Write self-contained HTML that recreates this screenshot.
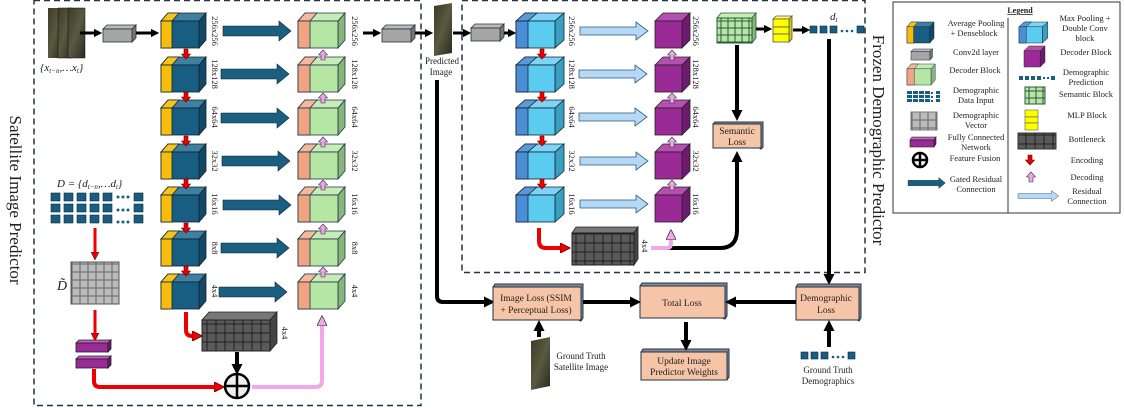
<!DOCTYPE html>
<html><head><meta charset="utf-8"><style>
body{margin:0;background:#fff}
svg{display:block}
text{font-family:"Liberation Serif",serif;fill:#222}
.s{font-size:9px}
.b{font-size:9.5px}
.l{font-size:10px}
</style></head><body>
<svg width="1125" height="408" viewBox="0 0 1125 408" xmlns="http://www.w3.org/2000/svg">
<defs>
<pattern id="gg" width="8" height="8" patternUnits="userSpaceOnUse"><rect width="8" height="8" fill="#bbb" stroke="#666" stroke-width="1"/></pattern>
<pattern id="gb" width="9" height="9" patternUnits="userSpaceOnUse"><rect width="9" height="9" fill="#5a5a5a" stroke="#222" stroke-width="1"/></pattern>
<pattern id="gs" width="7" height="7" patternUnits="userSpaceOnUse"><rect width="7" height="7" fill="#b7e6a6" stroke="#2a5a3a" stroke-width="1"/></pattern>
<linearGradient id="sat" x1="0" y1="0" x2="1" y2="1"><stop offset="0" stop-color="#3a3a2a"/><stop offset="0.5" stop-color="#5a5a40"/><stop offset="1" stop-color="#2a2a20"/></linearGradient>
<symbol id="encL" overflow="visible">
<polygon points="0,8 7,0 45,0 38,8" fill="#3f7fa0" stroke="#123" stroke-width="0.8"/>
<polygon points="0,8 7,0 18,0 11,8" fill="#f5c518" stroke="#123" stroke-width="0.8"/>
<polygon points="38,8 45,0 45,27 38,35" fill="#134866" stroke="#123" stroke-width="0.8"/>
<rect x="0" y="8" width="38" height="27" fill="#175e82" stroke="#123" stroke-width="0.8"/>
<rect x="0" y="8" width="11" height="27" fill="#f6bd0a" stroke="#123" stroke-width="0.8"/>
</symbol>
<symbol id="decL" overflow="visible">
<polygon points="0,8 7,0 47,0 40,8" fill="#c6ecb8" stroke="#234" stroke-width="0.8"/>
<polygon points="0,8 7,0 19,0 12,8" fill="#f4b89a" stroke="#234" stroke-width="0.8"/>
<polygon points="40,8 47,0 47,27 40,35" fill="#86b77a" stroke="#234" stroke-width="0.8"/>
<rect x="0" y="8" width="40" height="27" fill="#b6e6a4" stroke="#234" stroke-width="0.8"/>
<rect x="0" y="8" width="12" height="27" fill="#f0a582" stroke="#234" stroke-width="0.8"/>
</symbol>
<symbol id="encR" overflow="visible">
<polygon points="0,8 9,0 48,0 39,8" fill="#7dd4f5" stroke="#123" stroke-width="0.8"/>
<polygon points="0,8 9,0 21,0 12,8" fill="#5a9ad8" stroke="#123" stroke-width="0.8"/>
<polygon points="39,8 48,0 48,27 39,35" fill="#3aa0c0" stroke="#123" stroke-width="0.8"/>
<rect x="0" y="8" width="39" height="27" fill="#5ccbf0" stroke="#123" stroke-width="0.8"/>
<rect x="0" y="8" width="12" height="27" fill="#4a8ed6" stroke="#123" stroke-width="0.8"/>
</symbol>
<symbol id="pur" overflow="visible">
<polygon points="0,8 8,0 35,0 27,8" fill="#b550b0" stroke="#222" stroke-width="0.8"/>
<polygon points="27,8 35,0 35,27 27,35" fill="#6e1a6e" stroke="#222" stroke-width="0.8"/>
<rect x="0" y="8" width="27" height="27" fill="#9a2a96" stroke="#222" stroke-width="0.8"/>
</symbol>
<symbol id="conv" overflow="visible">
<polygon points="0,4 4,0 33,0 29,4" fill="#bbb" stroke="#234" stroke-width="0.8"/>
<polygon points="29,4 33,0 33,13 29,17" fill="#777" stroke="#234" stroke-width="0.8"/>
<rect x="0" y="4" width="29" height="13" fill="#a6a6a6" stroke="#234" stroke-width="0.8"/>
</symbol>
<symbol id="gat" overflow="visible"><polygon points="0,-5 56,-5 56,-10 68,0 56,10 56,5 0,5" fill="#1a5e80" stroke="#123" stroke-width="0.6"/></symbol>
<symbol id="res" overflow="visible"><polygon points="0,-4 56,-4 56,-9 68,0 56,9 56,4 0,4" fill="#b4d8f6" stroke="#2a5a7a" stroke-width="0.8"/></symbol>
<symbol id="rd" overflow="visible"><polygon points="-2,0 2,0 2,5 4.5,5 0,10 -4.5,5 -2,5" fill="#e00" stroke="#600" stroke-width="0.6"/></symbol>
<symbol id="pu" overflow="visible"><polygon points="-2,10 2,10 2,5 4.5,5 0,0 -4.5,5 -2,5" fill="#f0a8e8" stroke="#334" stroke-width="0.6"/></symbol>
<marker id="ah" viewBox="0 0 4 4" markerWidth="2.8" markerHeight="2.8" refX="1.5" refY="2" orient="auto" markerUnits="strokeWidth"><path d="M0,0 L4,2 L0,4 z" fill="#000"/></marker>
<marker id="ahr" viewBox="0 0 4 4" markerWidth="2.6" markerHeight="2.6" refX="1.5" refY="2" orient="auto" markerUnits="strokeWidth"><path d="M0,0 L4,2 L0,4 z" fill="#e00" stroke="#600" stroke-width="0.3"/></marker>
<marker id="ahp" viewBox="0 0 4 4" markerWidth="2.6" markerHeight="2.6" refX="1.5" refY="2" orient="auto" markerUnits="strokeWidth"><path d="M0,0 L4,2 L0,4 z" fill="#f0a8e8" stroke="#334" stroke-width="0.3"/></marker>
</defs>

<!-- Left panel -->
<rect x="34" y="0.5" width="387" height="405" fill="none" stroke="#234" stroke-width="1.5" stroke-dasharray="6,4"/>
<text transform="translate(10,200) rotate(90)" text-anchor="middle" style="font-size:17px">Satellite Image Predictor</text>
<rect x="48" y="8" width="14" height="50" fill="url(#sat)"/><rect x="58" y="8" width="14" height="50" fill="url(#sat)" stroke="#111" stroke-width="0.5"/><rect x="68" y="8" width="17" height="50" fill="url(#sat)" stroke="#111" stroke-width="0.5"/>
<text x="40" y="71" class="l" style="font-style:italic;font-size:11px">{x<tspan font-size="7" dy="2">t−n</tspan><tspan dy="-2">,…x</tspan><tspan font-size="7" dy="2">t</tspan><tspan dy="-2">}</tspan></text>
<line x1="80" y1="33" x2="97" y2="33" stroke="#000" stroke-width="3" marker-end="url(#ah)"/>
<use href="#conv" x="103" y="25"/>
<line x1="136" y1="33" x2="154" y2="33" stroke="#000" stroke-width="3" marker-end="url(#ah)"/>

<use href="#encL" x="161" y="13"/><use href="#encL" x="161" y="57"/><use href="#encL" x="161" y="100"/><use href="#encL" x="161" y="144"/><use href="#encL" x="161" y="187"/><use href="#encL" x="161" y="231"/><use href="#encL" x="161" y="274"/>
<use href="#rd" x="186" y="49"/><use href="#rd" x="186" y="92"/><use href="#rd" x="186" y="136"/><use href="#rd" x="186" y="179"/><use href="#rd" x="186" y="223"/><use href="#rd" x="186" y="266"/>
<g class="s" style="font-size:8.5px">
<text transform="translate(212,31) rotate(90)" text-anchor="middle">256x256</text>
<text transform="translate(212,74) rotate(90)" text-anchor="middle">128x128</text>
<text transform="translate(212,117) rotate(90)" text-anchor="middle">64x64</text>
<text transform="translate(212,161) rotate(90)" text-anchor="middle">32x32</text>
<text transform="translate(212,204) rotate(90)" text-anchor="middle">16x16</text>
<text transform="translate(212,248) rotate(90)" text-anchor="middle">8x8</text>
<text transform="translate(212,291) rotate(90)" text-anchor="middle">4x4</text>
<text transform="translate(352,31) rotate(90)" text-anchor="middle">256x256</text>
<text transform="translate(352,74) rotate(90)" text-anchor="middle">128x128</text>
<text transform="translate(352,117) rotate(90)" text-anchor="middle">64x64</text>
<text transform="translate(352,161) rotate(90)" text-anchor="middle">32x32</text>
<text transform="translate(352,204) rotate(90)" text-anchor="middle">16x16</text>
<text transform="translate(352,248) rotate(90)" text-anchor="middle">8x8</text>
<text transform="translate(352,291) rotate(90)" text-anchor="middle">4x4</text>
<text transform="translate(282,333) rotate(90)" text-anchor="middle">4x4</text>
</g>
<use href="#gat" x="223" y="31"/><use href="#gat" x="221" y="74"/><use href="#gat" x="221" y="118"/><use href="#gat" x="222" y="161"/><use href="#gat" x="223" y="205"/><use href="#gat" x="221" y="248"/><use href="#gat" x="219" y="292"/>
<use href="#decL" x="298" y="13"/><use href="#decL" x="298" y="57"/><use href="#decL" x="298" y="100"/><use href="#decL" x="298" y="144"/><use href="#decL" x="298" y="187"/><use href="#decL" x="298" y="231"/><use href="#decL" x="298" y="274"/>
<use href="#pu" x="323" y="50"/><use href="#pu" x="323" y="93"/><use href="#pu" x="323" y="137"/><use href="#pu" x="323" y="180"/><use href="#pu" x="323" y="224"/><use href="#pu" x="323" y="267"/>

<!-- left bottleneck -->
<polygon points="202,320 209,312 277,312 270,320" fill="#777" stroke="#222" stroke-width="0.8"/>
<polygon points="270,320 277,312 277,343 270,351" fill="#444" stroke="#222" stroke-width="0.8"/>
<rect x="202" y="320" width="68" height="31" fill="url(#gb)" stroke="#222"/>
<path d="M186,312 V330 Q186,336 192,336 H196" fill="none" stroke="#e00" stroke-width="4" marker-end="url(#ahr)"/>
<line x1="237" y1="352" x2="237" y2="368" stroke="#000" stroke-width="4" marker-end="url(#ah)"/>
<circle cx="237" cy="386" r="12" fill="#eee" stroke="#000" stroke-width="2.5"/>
<line x1="225" y1="386" x2="249" y2="386" stroke="#000" stroke-width="2.5"/><line x1="237" y1="374" x2="237" y2="398" stroke="#000" stroke-width="2.5"/>
<path d="M252,387 H316 Q322,387 322,380 V322" fill="none" stroke="#f0a8e8" stroke-width="4" marker-end="url(#ahp)"/>

<!-- D set -->
<text x="57" y="187" style="font-style:italic;font-size:11px">D = {d<tspan font-size="7" dy="2">t−n</tspan><tspan dy="-2">,…d</tspan><tspan font-size="7" dy="2">t</tspan><tspan dy="-2">}</tspan></text>
<g fill="#175e82" stroke="#0a2a40" stroke-width="0.6">
<rect x="51" y="193" width="9" height="8"/><rect x="51" y="204" width="9" height="8"/><rect x="51" y="215" width="9" height="8"/>
<rect x="64" y="193" width="9" height="8"/><rect x="64" y="204" width="9" height="8"/><rect x="64" y="215" width="9" height="8"/>
<rect x="77" y="193" width="9" height="8"/><rect x="77" y="204" width="9" height="8"/><rect x="77" y="215" width="9" height="8"/>
<rect x="90" y="193" width="9" height="8"/><rect x="90" y="204" width="9" height="8"/><rect x="90" y="215" width="9" height="8"/>
<rect x="103" y="193" width="9" height="8"/><rect x="103" y="204" width="9" height="8"/><rect x="103" y="215" width="9" height="8"/>
<rect x="134" y="193" width="9" height="8"/><rect x="134" y="204" width="9" height="8"/><rect x="134" y="215" width="9" height="8"/>
</g>
<g fill="#175e82"><circle cx="118" cy="197" r="1.5"/><circle cx="123" cy="197" r="1.5"/><circle cx="128" cy="197" r="1.5"/><circle cx="118" cy="210" r="1.5"/><circle cx="123" cy="210" r="1.5"/><circle cx="128" cy="210" r="1.5"/><circle cx="118" cy="222" r="1.5"/><circle cx="123" cy="222" r="1.5"/><circle cx="128" cy="222" r="1.5"/></g>
<line x1="95" y1="228" x2="95" y2="255" stroke="#e00" stroke-width="3" marker-end="url(#ahr)"/>
<rect x="71" y="262" width="48" height="42" fill="url(#gg)" stroke="#555"/>
<text x="57" y="290" style="font-style:italic;font-size:14px">D̃</text>
<line x1="95" y1="310" x2="95" y2="336" stroke="#e00" stroke-width="3" marker-end="url(#ahr)"/>
<g stroke="#222" stroke-width="0.8"><polygon points="76,343 79,340 111,340 108,343" fill="#c060c0"/><rect x="76" y="343" width="32" height="9" fill="#9a2a96"/><polygon points="108,343 111,340 111,349 108,352" fill="#6e1a6e"/>
<polygon points="76,359 79,356 111,356 108,359" fill="#c060c0"/><rect x="76" y="359" width="32" height="9" fill="#9a2a96"/><polygon points="108,359 111,356 111,365 108,368" fill="#6e1a6e"/></g>
<path d="M94,369 V381 Q94,387 100,387 H218" fill="none" stroke="#e00" stroke-width="4" marker-end="url(#ahr)"/>

<line x1="363" y1="33" x2="376" y2="33" stroke="#000" stroke-width="3" marker-end="url(#ah)"/>
<use href="#conv" x="382" y="25"/>
<line x1="415" y1="33" x2="428" y2="33" stroke="#000" stroke-width="3" marker-end="url(#ah)"/>

<!-- predicted image -->
<polygon points="434,6 452,3 452,53 434,56" fill="url(#sat)"/>
<text x="442" y="64" text-anchor="middle" class="s">Predicted</text>
<text x="441" y="75" text-anchor="middle" class="s">Image</text>
<path d="M437,80 V296 Q437,302 443,302 H488" fill="none" stroke="#000" stroke-width="4" marker-end="url(#ah)"/>

<!-- Right panel -->
<rect x="462" y="0.5" width="403" height="272" fill="none" stroke="#234" stroke-width="1.5" stroke-dasharray="6,4"/>
<text transform="translate(873,140) rotate(90)" text-anchor="middle" style="font-size:17px">Frozen Demographic Predictor</text>
<line x1="453" y1="33" x2="466" y2="33" stroke="#000" stroke-width="3" marker-end="url(#ah)"/>
<use href="#conv" x="471" y="24"/>
<line x1="504" y1="33" x2="511" y2="33" stroke="#000" stroke-width="3" marker-end="url(#ah)"/>
<use href="#encR" x="516" y="13"/><use href="#encR" x="516" y="57"/><use href="#encR" x="516" y="100"/><use href="#encR" x="516" y="144"/><use href="#encR" x="516" y="187"/>
<use href="#rd" x="542" y="49"/><use href="#rd" x="542" y="92"/><use href="#rd" x="542" y="136"/><use href="#rd" x="542" y="179"/>
<use href="#res" x="580" y="31"/><use href="#res" x="579" y="74"/><use href="#res" x="579" y="117"/><use href="#res" x="580" y="161"/><use href="#res" x="580" y="204"/>
<use href="#pur" x="655" y="13"/><use href="#pur" x="655" y="57"/><use href="#pur" x="655" y="100"/><use href="#pur" x="655" y="144"/><use href="#pur" x="655" y="187"/>
<use href="#pu" x="672" y="50"/><use href="#pu" x="672" y="93"/><use href="#pu" x="672" y="137"/><use href="#pu" x="672" y="180"/>
<g class="s" style="font-size:8.5px">
<text transform="translate(569,31) rotate(90)" text-anchor="middle">256x256</text>
<text transform="translate(569,74) rotate(90)" text-anchor="middle">128x128</text>
<text transform="translate(569,117) rotate(90)" text-anchor="middle">64x64</text>
<text transform="translate(569,161) rotate(90)" text-anchor="middle">32x32</text>
<text transform="translate(569,204) rotate(90)" text-anchor="middle">16x16</text>
<text transform="translate(693,31) rotate(90)" text-anchor="middle">256x256</text>
<text transform="translate(693,74) rotate(90)" text-anchor="middle">128x128</text>
<text transform="translate(693,117) rotate(90)" text-anchor="middle">64x64</text>
<text transform="translate(693,161) rotate(90)" text-anchor="middle">32x32</text>
<text transform="translate(693,204) rotate(90)" text-anchor="middle">16x16</text>
<text transform="translate(642,246) rotate(90)" text-anchor="middle">4x4</text>
</g>
<!-- right bottleneck -->
<polygon points="572,233 576,227 638,227 634,233" fill="#777" stroke="#222" stroke-width="0.8"/>
<polygon points="634,233 638,227 638,259 634,265" fill="#444" stroke="#222" stroke-width="0.8"/>
<rect x="572" y="233" width="62" height="32" fill="url(#gb)" stroke="#222"/>
<path d="M539,228 V241 Q539,248 546,248 H564" fill="none" stroke="#e00" stroke-width="4" marker-end="url(#ahr)"/>
<path d="M667,248 H720 Q737,248 737,230 V158" fill="none" stroke="#000" stroke-width="4" marker-end="url(#ah)"/>
<path d="M651,248 H667 Q671,248 671,243 V236" fill="none" stroke="#f0a8e8" stroke-width="4" marker-end="url(#ahp)"/>
<!-- semantic, mlp, pred -->
<polygon points="717,18 721,13 756,13 752,18" fill="#c6ecb8" stroke="#2a5a3a" stroke-width="0.8"/>
<polygon points="752,18 756,13 756,38 752,43" fill="#86b77a" stroke="#2a5a3a" stroke-width="0.8"/>
<rect x="717" y="18" width="35" height="25" fill="url(#gs)" stroke="#2a5a3a"/>
<line x1="756" y1="29" x2="767" y2="29" stroke="#000" stroke-width="3" marker-end="url(#ah)"/>
<g stroke="#555" stroke-width="0.8"><polygon points="773,19 776,16 792,16 789,19" fill="#ff6"/><polygon points="789,19 792,16 792,39 789,42" fill="#cc0"/>
<rect x="773" y="19" width="16" height="8" fill="#ff0"/><rect x="773" y="27" width="16" height="7" fill="#ff0"/><rect x="773" y="34" width="16" height="8" fill="#ff0"/></g>
<line x1="793" y1="30" x2="805" y2="30" stroke="#000" stroke-width="3" marker-end="url(#ah)"/>
<g fill="#175e82" stroke="#0a2a40" stroke-width="0.6"><rect x="810" y="26" width="7" height="7"/><rect x="820" y="26" width="7" height="7"/><rect x="830" y="26" width="7" height="7"/><rect x="857" y="26" width="7" height="7"/></g>
<g fill="#175e82"><circle cx="842" cy="31" r="1.3"/><circle cx="847" cy="31" r="1.3"/><circle cx="852" cy="31" r="1.3"/></g>
<text x="830" y="20" style="font-style:italic;font-size:11px">d<tspan font-size="7" dy="2">t</tspan></text>
<line x1="737" y1="45" x2="737" y2="114" stroke="#000" stroke-width="4" marker-end="url(#ah)"/>
<line x1="829" y1="39" x2="829" y2="278" stroke="#000" stroke-width="4" marker-end="url(#ah)"/>

<!-- boxes -->
<g stroke="#234" stroke-width="1">
<polygon points="713,124 715,122 763,122 763,147 761,149" fill="#889"/>
<rect x="713" y="124" width="48" height="24" fill="#f6c4a6"/>
<polygon points="493,287 495,284 583,284 583,318 581,321" fill="#889"/>
<rect x="493" y="287" width="88" height="33" fill="#f6c4a6"/>
<polygon points="640,286 642,283 727,283 727,316 725,319" fill="#889"/>
<rect x="640" y="286" width="85" height="32" fill="#f6c4a6"/>
<polygon points="796,287 798,284 861,284 861,318 859,321" fill="#889"/>
<rect x="796" y="287" width="63" height="33" fill="#f6c4a6"/>
<polygon points="641,352 643,349 729,349 729,377 727,380" fill="#889"/>
<rect x="641" y="352" width="86" height="28" fill="#f6c4a6"/>
</g>
<text x="737" y="134" text-anchor="middle" class="b">Semantic</text>
<text x="737" y="145" text-anchor="middle" class="b">Loss</text>
<text x="536" y="301" text-anchor="middle" class="b">Image Loss (SSIM</text>
<text x="536" y="313" text-anchor="middle" class="b">+ Perceptual Loss)</text>
<text x="682" y="306" text-anchor="middle" class="b">Total Loss</text>
<text x="826" y="301" text-anchor="middle" class="b">Demographic</text>
<text x="826" y="313" text-anchor="middle" class="b">Loss</text>
<text x="684" y="364" text-anchor="middle" class="b">Update Image</text>
<text x="684" y="375" text-anchor="middle" class="b">Predictor Weights</text>
<line x1="583" y1="302" x2="634" y2="302" stroke="#000" stroke-width="4" marker-end="url(#ah)"/>
<line x1="796" y1="302" x2="732" y2="302" stroke="#000" stroke-width="4" marker-end="url(#ah)"/>
<line x1="686" y1="322" x2="686" y2="344" stroke="#000" stroke-width="4" marker-end="url(#ah)"/>
<line x1="539" y1="337" x2="539" y2="327" stroke="#000" stroke-width="4" marker-end="url(#ah)"/>
<line x1="829" y1="347" x2="829" y2="327" stroke="#000" stroke-width="4" marker-end="url(#ah)"/>
<polygon points="531,341 550,337 550,386 531,390" fill="url(#sat)"/>
<text x="581" y="359" text-anchor="middle" class="s">Ground Truth</text>
<text x="581" y="370" text-anchor="middle" class="s">Satellite Image</text>
<g fill="#175e82" stroke="#0a2a40" stroke-width="0.6"><rect x="801" y="352" width="7" height="7"/><rect x="811" y="352" width="7" height="7"/><rect x="821" y="352" width="7" height="7"/><rect x="848" y="352" width="7" height="7"/></g>
<g fill="#175e82"><circle cx="833" cy="357" r="1.3"/><circle cx="838" cy="357" r="1.3"/><circle cx="843" cy="357" r="1.3"/></g>
<text x="828" y="373" text-anchor="middle" class="s">Ground Truth</text>
<text x="828" y="384" text-anchor="middle" class="s">Demographics</text>

<!-- Legend -->
<rect x="893" y="2" width="227" height="211" fill="#fff" stroke="#333" stroke-width="1"/>
<line x1="1008" y1="18" x2="1008" y2="213" stroke="#333" stroke-width="1"/>
<text x="1020" y="13" text-anchor="middle" style="font-size:8px;font-weight:bold;text-decoration:underline">Legend</text>
<g text-anchor="middle" style="font-size:8.5px">
<text x="976" y="26">Average Pooling</text><text x="974" y="36">+ Denseblock</text>
<text x="976" y="55">Conv2d layer</text>
<text x="975" y="73">Decoder Block</text>
<text x="976" y="93">Demographic</text><text x="976" y="103">Data Input</text>
<text x="976" y="118">Demographic</text><text x="976" y="128">Vector</text>
<text x="976" y="140">Fully Connected</text><text x="976" y="150">Network</text>
<text x="975" y="161">Feature Fusion</text>
<text x="976" y="182">Gated Residual</text><text x="976" y="192">Connection</text>
<text x="1085" y="21">Max Pooling +</text><text x="1085" y="31">Double Conv</text><text x="1085" y="41">block</text>
<text x="1086" y="55">Decoder Block</text>
<text x="1086" y="75">Demographic</text><text x="1086" y="85">Prediction</text>
<text x="1086" y="97">Semantic Block</text>
<text x="1087" y="118">MLP Block</text>
<text x="1087" y="142">Bottleneck</text>
<text x="1087" y="163">Encoding</text>
<text x="1087" y="180">Decoding</text>
<text x="1087" y="194">Residual</text><text x="1087" y="204">Connection</text>
</g>
<g transform="translate(907,22) scale(0.6)"><use href="#encL" x="0" y="0"/></g>
<g transform="translate(911,49)"><use href="#conv" transform="scale(0.65)"/></g>
<g transform="translate(907,64) scale(0.6)"><use href="#decL" x="0" y="0"/></g>
<g fill="#175e82"><rect x="907" y="91" width="5" height="3"/><rect x="907" y="95" width="5" height="3"/><rect x="907" y="99" width="5" height="3"/><rect x="913" y="91" width="5" height="3"/><rect x="913" y="95" width="5" height="3"/><rect x="913" y="99" width="5" height="3"/><rect x="919" y="91" width="5" height="3"/><rect x="919" y="95" width="5" height="3"/><rect x="919" y="99" width="5" height="3"/><rect x="925" y="91" width="5" height="3"/><rect x="925" y="95" width="5" height="3"/><rect x="925" y="99" width="5" height="3"/><rect x="936" y="91" width="4" height="3"/><rect x="936" y="95" width="4" height="3"/><rect x="936" y="99" width="4" height="3"/><rect x="931" y="92" width="2" height="2"/><rect x="931" y="96" width="2" height="2"/><rect x="931" y="100" width="2" height="2"/></g>
<rect x="911" y="112" width="26" height="18" fill="url(#gg)" stroke="#777"/>
<g stroke="#222" stroke-width="0.6"><polygon points="910,140 912,137 936,137 934,140" fill="#c060c0"/><rect x="910" y="140" width="24" height="7" fill="#9a2a96"/><polygon points="934,140 936,137 936,144 934,147" fill="#6e1a6e"/></g>
<circle cx="920" cy="160" r="7" fill="#fff" stroke="#000" stroke-width="2.5"/><line x1="913" y1="160" x2="927" y2="160" stroke="#000" stroke-width="2.5"/><line x1="920" y1="153" x2="920" y2="167" stroke="#000" stroke-width="2.5"/>
<g transform="translate(908,183) scale(0.55)"><use href="#gat"/></g>
<g transform="translate(1019,22) scale(0.6)"><use href="#encR"/></g>
<g transform="translate(1024,46) scale(0.6)"><use href="#pur"/></g>
<g fill="#175e82"><rect x="1019" y="76" width="4" height="4"/><rect x="1025" y="76" width="4" height="4"/><rect x="1031" y="76" width="4" height="4"/><rect x="1037" y="76" width="4" height="4"/><rect x="1043" y="77" width="2" height="2"/><rect x="1047" y="77" width="2" height="2"/><rect x="1051" y="76" width="4" height="4"/></g>
<rect x="1025" y="87" width="20" height="17" fill="url(#gs)" stroke="#2a5a3a"/>
<g stroke="#555" stroke-width="0.6" fill="#ff0"><rect x="1025" y="110" width="13" height="7"/><rect x="1025" y="117" width="13" height="6"/><rect x="1025" y="123" width="13" height="7"/></g>
<rect x="1018" y="133" width="38" height="16" fill="url(#gb)" stroke="#333"/>
<g transform="translate(1030,155)"><use href="#rd"/></g>
<g transform="translate(1031,172)"><use href="#pu"/></g>
<g transform="translate(1018,196) scale(0.6)"><use href="#res"/></g>
</svg>
</body></html>
